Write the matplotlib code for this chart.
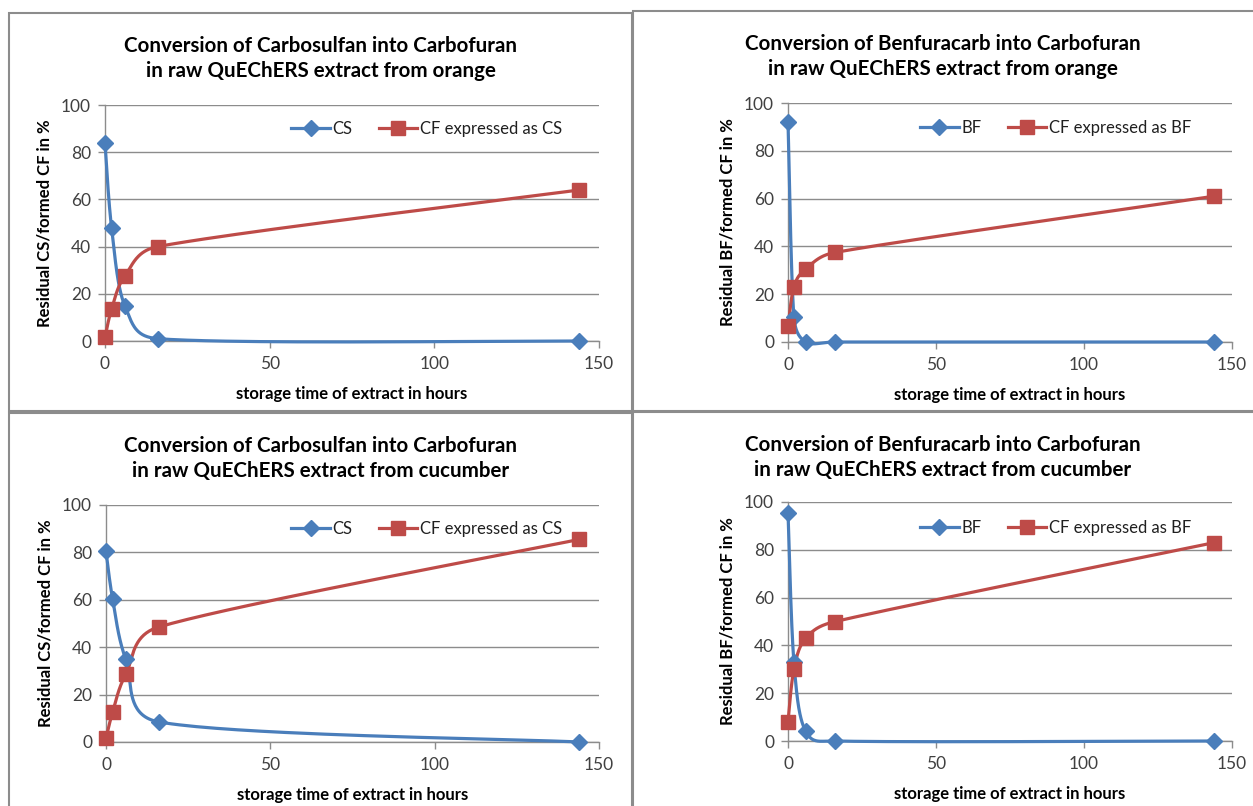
import numpy as np
import matplotlib
matplotlib.use('Agg')
import matplotlib.pyplot as plt
from matplotlib.patches import Rectangle

plt.rcParams['font.family'] = ['Lato', 'DejaVu Sans']

# storage time (h)
horas = [0, 2, 6, 16, 144]

# orange extract
cs_naranja = [84, 48, 15, 1, 0]
cf_cs_naranja = [1.5, 13.5, 27.5, 40, 64]
bf_naranja = [92, 10.5, 0, 0, 0]
cf_bf_naranja = [6.5, 23, 30.5, 37.5, 61]

# cucumber extract
cs_pepino = [80.5, 60.5, 35, 8.5, 0]
cf_cs_pepino = [1.5, 12.5, 28.5, 48.5, 85.5]
bf_pepino = [95.5, 33, 4, 0, 0]
cf_bf_pepino = [8, 30, 43, 50, 83]

titulos = [
    'Conversion of Carbosulfan into Carbofuran\nin raw QuEChERS extract from orange',
    'Conversion of Benfuracarb into Carbofuran\nin raw QuEChERS extract from orange',
    'Conversion of Carbosulfan into Carbofuran\nin raw QuEChERS extract from cucumber',
    'Conversion of Benfuracarb into Carbofuran\nin raw QuEChERS extract from cucumber',
]
ylabels = ['Residual CS/formed CF in %', 'Residual BF/formed CF in %',
           'Residual CS/formed CF in %', 'Residual BF/formed CF in %']
series = [
    (cs_naranja, cf_cs_naranja, 'CS', 'CF expressed as CS'),
    (bf_naranja, cf_bf_naranja, 'BF', 'CF expressed as BF'),
    (cs_pepino, cf_cs_pepino, 'CS', 'CF expressed as CS'),
    (bf_pepino, cf_bf_pepino, 'BF', 'CF expressed as BF'),
]

W, H = 1253, 806
azul = '#4A7EBB'
rojo = '#BE4B48'
gris = '#8C8C8C'

# pixel boxes: axes (x0, x1, ytop, ybottom), panel border (x0, y0, x1, y1), legend anchor
ejes = [(105, 599, 105, 341), (788, 1232, 103, 342),
        (106, 599, 505, 742), (788, 1232, 502, 741)]
marcos = [(9, 13, 632, 411), (633, 11, 1260, 411),
          (9, 413, 632, 810), (633, 412, 1260, 810)]
leyendas = [(0.945, 0.90), (0.93, 0.895), (0.945, 0.90), (0.93, 0.89)]


def control(a, b, l12):
    # excel style handle: (b - a)/6, but not longer than half the segment
    d = b - a
    ln = np.hypot(*d)
    if ln == 0:
        return d * 0
    return d / ln * min(ln / 6, l12 / 2)


def suavizar(ax, x, y, n=40):
    # smoothed line in screen coordinates
    p = ax.transData.transform(np.column_stack([x, y]))
    m = len(p)
    out = []
    for i in range(m - 1):
        p0 = p[i - 1] if i > 0 else p[i]
        p1, p2 = p[i], p[i + 1]
        p3 = p[i + 2] if i + 2 < m else p[i + 1]
        l12 = np.hypot(*(p2 - p1))
        c1 = p1 + control(p0, p2, l12)
        c2 = p2 - control(p1, p3, l12)
        t = np.linspace(0, 1, n)[:, None]
        seg = ((1 - t)**3 * p1 + 3 * (1 - t)**2 * t * c1
               + 3 * (1 - t) * t**2 * c2 + t**3 * p2)
        out.append(seg)
    out = np.vstack(out)
    d = ax.transData.inverted().transform(out)
    return d[:, 0], d[:, 1]


fig = plt.figure(figsize=(W / 100, H / 100), dpi=100)

for k in range(4):
    x0, x1, yt, yb = ejes[k]
    ax = fig.add_axes([x0 / W, 1 - yb / H, (x1 - x0) / W, (yb - yt) / H])
    ax.set_xlim(0, 150)
    ax.set_ylim(0, 100)
    ax.set_xticks([0, 50, 100, 150])
    ax.set_yticks(range(0, 101, 20))
    ax.grid(axis='y', color=gris, linewidth=1)
    ax.set_axisbelow(True)
    for s in ['top', 'right']:
        ax.spines[s].set_visible(False)
    for s in ['left', 'bottom']:
        ax.spines[s].set_color(gris)
        ax.spines[s].set_linewidth(1)
    ax.tick_params(colors=gris, labelcolor='#404040', labelsize=12.5,
                   length=5, width=1)
    ax.tick_params(axis='x', pad=6)
    ax.tick_params(axis='y', pad=5)

    res, cf, n1, n2 = series[k]
    xs, ys = suavizar(ax, horas, res)
    ax.plot(xs, ys, color=azul, lw=2.3, clip_on=False, zorder=3)
    xs, ys = suavizar(ax, horas, cf)
    ax.plot(xs, ys, color=rojo, lw=2.3, clip_on=False, zorder=4)
    ax.plot(horas, res, 'D', color=azul, ms=8, clip_on=False, zorder=5)
    ax.plot(horas, cf, 's', color=rojo, ms=10, clip_on=False, zorder=6)

    # legend handles
    h1, = ax.plot([], [], color=azul, lw=2.3, marker='D', ms=8)
    h2, = ax.plot([], [], color=rojo, lw=2.3, marker='s', ms=10)
    ax.legend([h1, h2], [n1, n2], loc='center right', ncol=2,
              bbox_to_anchor=leyendas[k], frameon=False, fontsize=12,
              handlelength=2.3, handletextpad=0.15, columnspacing=1.6,
              borderpad=0.1, labelcolor='#202020')

    ax.set_xlabel('storage time of extract in hours', fontsize=12,
                  fontweight='bold', labelpad=10)
    ax.set_ylabel(ylabels[k], fontsize=12, fontweight='bold', labelpad=6)

    # panel title
    bx0, by0, bx1, by1 = marcos[k]
    cx = (bx0 + min(bx1, W)) / 2
    fig.text(cx / W, 1 - (by0 + 23) / H, titulos[k], ha='center', va='top',
             fontsize=14.8, fontweight='bold', linespacing=1.3)

    fig.patches.append(Rectangle((bx0 / W, 1 - by1 / H), (bx1 - bx0) / W,
                                 (by1 - by0) / H, transform=fig.transFigure,
                                 fill=False, edgecolor=gris, linewidth=1.5))

fig.savefig('out.png', dpi=100)
